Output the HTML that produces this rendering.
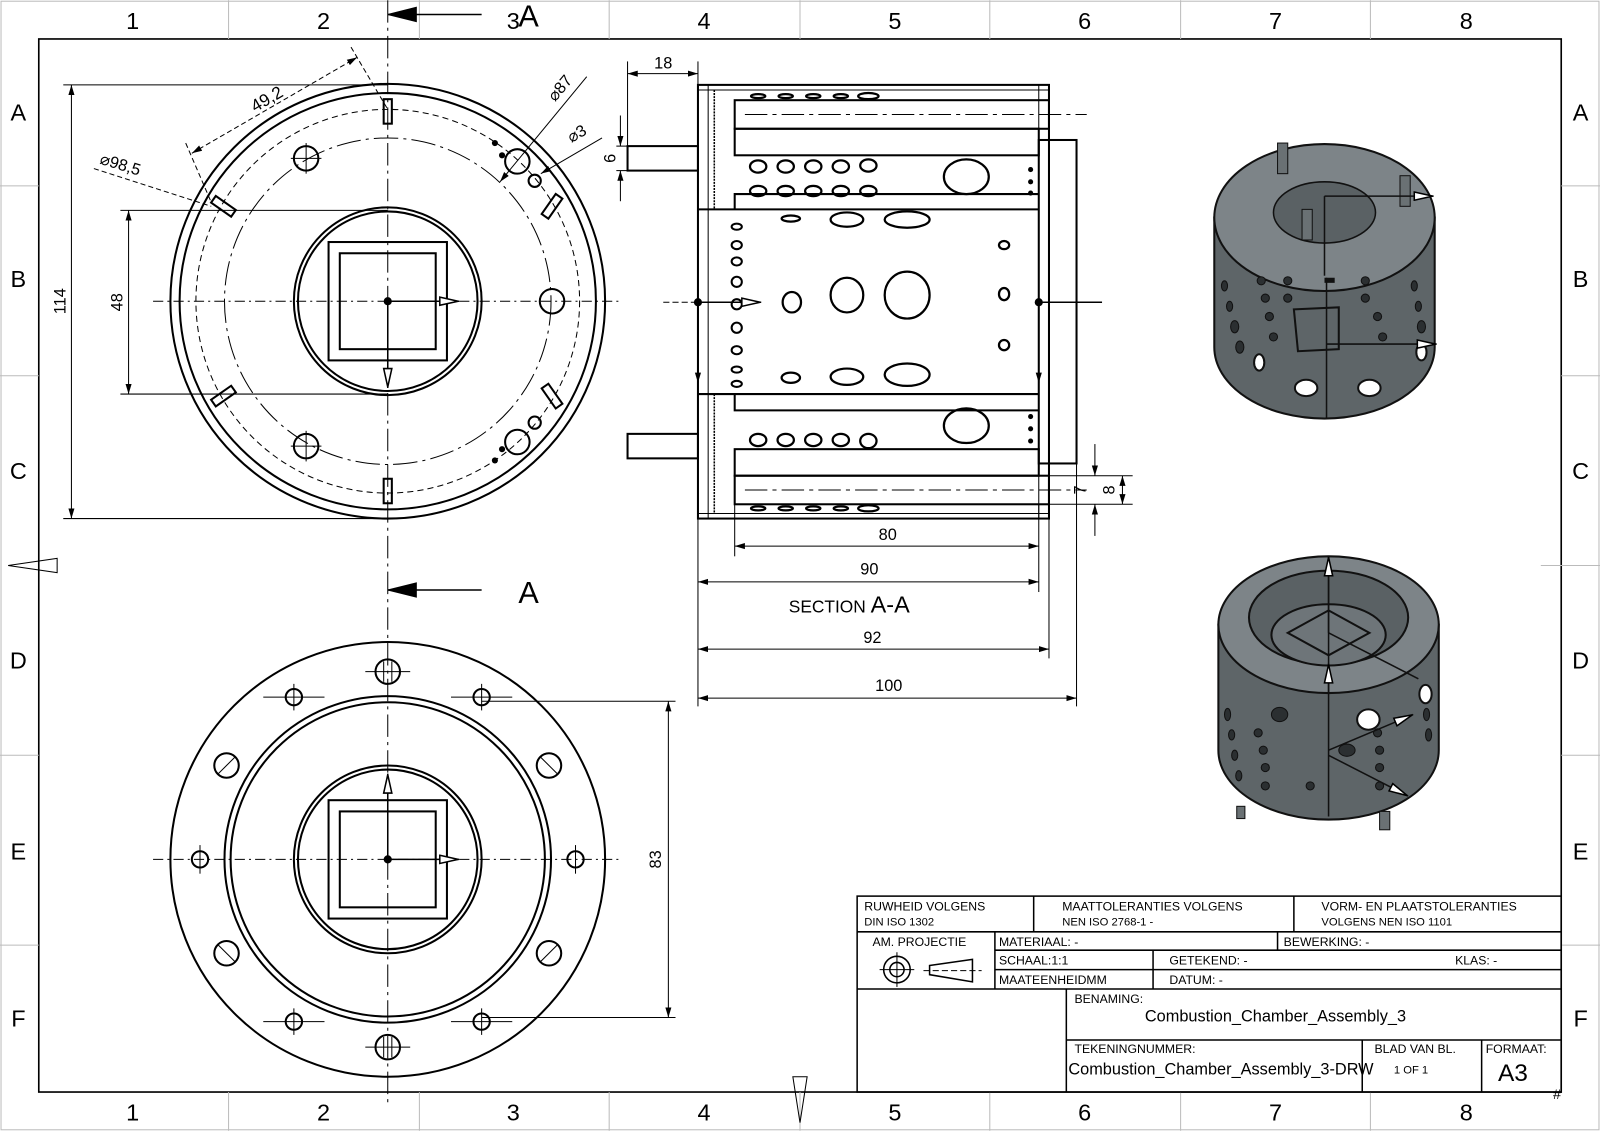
<!DOCTYPE html>
<html><head><meta charset="utf-8"><style>
html,body{margin:0;padding:0;background:#fff}
svg{display:block}
text{font-family:"Liberation Sans",Arial,sans-serif;fill:#000}
</style></head><body>
<svg width="1600" height="1131" viewBox="0 0 1568 1108" xmlns="http://www.w3.org/2000/svg">
<defs>
<marker id="ar" viewBox="0 0 10 10" refX="10" refY="5" markerWidth="10" markerHeight="10" orient="auto-start-reverse" markerUnits="userSpaceOnUse"><path d="M0,2 L10,5 L0,8 z" fill="#000"/></marker>
<marker id="oa" viewBox="0 0 20 10" refX="20" refY="5" markerWidth="20" markerHeight="10" orient="auto" markerUnits="userSpaceOnUse"><path d="M1,1 L19,5 L1,9 z" fill="#fff" stroke="#000" stroke-width="1.5"/></marker>
</defs>
<rect width="1568" height="1108" fill="#fff"/>
<rect x="1" y="1" width="1566" height="1106" fill="none" stroke="#bbb" stroke-width="1"/>
<rect x="38" y="38" width="1492" height="1032" fill="none" stroke="#000" stroke-width="1.6"/>
<g stroke="#bbb" stroke-width="1">
<line x1="224" y1="0" x2="224" y2="38"/><line x1="411" y1="0" x2="411" y2="38"/><line x1="597" y1="0" x2="597" y2="38"/><line x1="784" y1="0" x2="784" y2="38"/><line x1="970" y1="0" x2="970" y2="38"/><line x1="1157" y1="0" x2="1157" y2="38"/><line x1="1343" y1="0" x2="1343" y2="38"/>
<line x1="224" y1="1070" x2="224" y2="1108"/><line x1="411" y1="1070" x2="411" y2="1108"/><line x1="597" y1="1070" x2="597" y2="1108"/><line x1="784" y1="1070" x2="784" y2="1108"/><line x1="970" y1="1070" x2="970" y2="1108"/><line x1="1157" y1="1070" x2="1157" y2="1108"/><line x1="1343" y1="1070" x2="1343" y2="1108"/>
<line x1="0" y1="182" x2="38" y2="182"/><line x1="0" y1="368" x2="38" y2="368"/><line x1="0" y1="740" x2="38" y2="740"/><line x1="0" y1="926" x2="38" y2="926"/>
<line x1="1530" y1="182" x2="1568" y2="182"/><line x1="1530" y1="368" x2="1568" y2="368"/><line x1="1530" y1="740" x2="1568" y2="740"/><line x1="1530" y1="926" x2="1568" y2="926"/>
<line x1="1510" y1="554" x2="1568" y2="554"/>
</g>
<path d="M8,554 L56,547 L56,561 z" fill="none" stroke="#000" stroke-width="1"/>
<path d="M784,1100 L777,1055 L791,1055 z" fill="none" stroke="#000" stroke-width="1"/>
<g font-size="23" text-anchor="middle">
<text x="130" y="28">1</text><text x="317" y="28">2</text><text x="503" y="28">3</text><text x="690" y="28">4</text><text x="877" y="28">5</text><text x="1063" y="28">6</text><text x="1250" y="28">7</text><text x="1437" y="28">8</text>
<text x="130" y="1098">1</text><text x="317" y="1098">2</text><text x="503" y="1098">3</text><text x="690" y="1098">4</text><text x="877" y="1098">5</text><text x="1063" y="1098">6</text><text x="1250" y="1098">7</text><text x="1437" y="1098">8</text>
<text x="18" y="118">A</text><text x="18" y="281">B</text><text x="18" y="469">C</text><text x="18" y="655">D</text><text x="18" y="842">E</text><text x="18" y="1006">F</text>
<text x="1549" y="118">A</text><text x="1549" y="281">B</text><text x="1549" y="469">C</text><text x="1549" y="655">D</text><text x="1549" y="842">E</text><text x="1549" y="1006">F</text>
</g>

<g stroke="#000">
<line x1="380" y1="0" x2="380" y2="1085" stroke-width="1" stroke-dasharray="22,5,3,5"/>
<line x1="380" y1="14" x2="472" y2="14" stroke-width="1.5"/>
<path d="M380,14 L408,7 L408,21 z" fill="#000"/>
<line x1="380" y1="578" x2="472" y2="578" stroke-width="1.5"/>
<path d="M380,578 L408,571 L408,585 z" fill="#000"/>
</g>
<text x="508" y="26" font-size="30">A</text>
<text x="508" y="591" font-size="30">A</text>

<!-- top-left view -->
<g fill="none" stroke="#000" stroke-width="2">
<circle cx="380" cy="295" r="213"/>
<circle cx="380" cy="295" r="204"/>
<circle cx="380" cy="295" r="188" stroke-width="1" stroke-dasharray="6,4"/>
<circle cx="380" cy="295" r="160" stroke-width="1" stroke-dasharray="24,5,3,5"/>
<circle cx="380" cy="295" r="92"/>
<circle cx="380" cy="295" r="88"/>
<rect x="322" y="237" width="116" height="116"/>
<rect x="333" y="248" width="94" height="94"/>
<circle cx="300" cy="155" r="12"/><circle cx="300" cy="437" r="12"/><circle cx="541" cy="295" r="12"/>
<circle cx="507" cy="158" r="12"/><circle cx="507" cy="433" r="12"/>
<circle cx="524" cy="177" r="6"/><circle cx="524" cy="414" r="6"/>
<rect x="376" y="97" width="8" height="24"/><rect x="376" y="469" width="8" height="24"/>
<rect x="207" y="198" width="24" height="8" transform="rotate(35 219 202)"/>
<rect x="529" y="198" width="24" height="8" transform="rotate(-55 541 202)"/>
<rect x="207" y="384" width="24" height="8" transform="rotate(-35 219 388)"/>
<rect x="529" y="384" width="24" height="8" transform="rotate(55 541 388)"/>
</g>
<g fill="#000"><circle cx="485" cy="140" r="3"/><circle cx="492" cy="152" r="3"/><circle cx="485" cy="451" r="3"/><circle cx="492" cy="440" r="3"/><circle cx="380" cy="295" r="4"/></g>
<g stroke="#000" stroke-width="1">
<line x1="150" y1="295" x2="610" y2="295" stroke-dasharray="10,4,2,4"/>
<line x1="285" y1="155" x2="315" y2="155"/><line x1="300" y1="140" x2="300" y2="170"/>
<line x1="285" y1="437" x2="315" y2="437"/><line x1="300" y1="422" x2="300" y2="452"/>
<line x1="380" y1="295" x2="450" y2="295" stroke-width="1.5" marker-end="url(#oa)"/>
<line x1="380" y1="295" x2="380" y2="380" stroke-width="1.5" marker-end="url(#oa)"/>
<line x1="62" y1="83" x2="380" y2="83"/><line x1="62" y1="508" x2="380" y2="508"/>
<line x1="70" y1="83" x2="70" y2="508" marker-start="url(#ar)" marker-end="url(#ar)"/>
<line x1="118" y1="206" x2="380" y2="206"/><line x1="118" y1="386" x2="380" y2="386"/>
<line x1="126" y1="206" x2="126" y2="386" marker-start="url(#ar)" marker-end="url(#ar)"/>
<line x1="188" y1="150" x2="350" y2="56" marker-start="url(#ar)" marker-end="url(#ar)" stroke-dasharray="5,3"/>
<line x1="182" y1="140" x2="207" y2="198" stroke-dasharray="5,3"/>
<line x1="344" y1="46" x2="380" y2="107" stroke-dasharray="5,3"/>
<line x1="92" y1="165" x2="207" y2="202" stroke-dasharray="5,3"/>
<line x1="575" y1="75" x2="490" y2="178" marker-end="url(#ar)"/>
<line x1="590" y1="135" x2="530" y2="170" marker-end="url(#ar)"/>
</g>
<text x="0" y="0" font-size="17" transform="translate(250,110) rotate(-30)">49,2</text>
<text x="0" y="0" font-size="16" transform="translate(97,160) rotate(17)">⌀98,5</text>
<text x="0" y="0" font-size="16" transform="translate(544,100) rotate(-50)">⌀87</text>
<text x="0" y="0" font-size="16" transform="translate(560,140) rotate(-30)">⌀3</text>
<text x="0" y="0" font-size="16" text-anchor="middle" transform="translate(64,295) rotate(-90)">114</text>
<text x="0" y="0" font-size="16" text-anchor="middle" transform="translate(120,296) rotate(-90)">48</text>

<!-- bottom-left view -->
<g fill="none" stroke="#000" stroke-width="2">
<circle cx="380" cy="842" r="213"/>
<circle cx="380" cy="842" r="160"/>
<circle cx="380" cy="842" r="154"/>
<circle cx="380" cy="842" r="92"/>
<circle cx="380" cy="842" r="88"/>
<rect x="322" y="784" width="116" height="116"/>
<rect x="333" y="795" width="94" height="94"/>
<circle cx="380" cy="658" r="12"/><circle cx="380" cy="1026" r="12"/>
<circle cx="222" cy="750" r="12"/><circle cx="538" cy="750" r="12"/><circle cx="222" cy="934" r="12"/><circle cx="538" cy="934" r="12"/>
<circle cx="288" cy="683" r="8"/><circle cx="472" cy="683" r="8"/><circle cx="288" cy="1001" r="8"/><circle cx="472" cy="1001" r="8"/>
<circle cx="196" cy="842" r="8"/><circle cx="564" cy="842" r="8"/>
</g>
<g stroke="#000" stroke-width="1">
<line x1="150" y1="842" x2="610" y2="842" stroke-dasharray="10,4,2,4"/>
<line x1="358" y1="658" x2="402" y2="658"/><line x1="358" y1="1026" x2="402" y2="1026"/>
<line x1="376" y1="648" x2="376" y2="668"/><line x1="384" y1="648" x2="384" y2="668"/>
<line x1="376" y1="1016" x2="376" y2="1036"/><line x1="384" y1="1016" x2="384" y2="1036"/>
<line x1="258" y1="683" x2="318" y2="683"/><line x1="442" y1="683" x2="502" y2="683"/><line x1="258" y1="1001" x2="318" y2="1001"/><line x1="442" y1="1001" x2="502" y2="1001"/>
<line x1="288" y1="670" x2="288" y2="696"/><line x1="472" y1="670" x2="472" y2="696"/><line x1="288" y1="988" x2="288" y2="1014"/><line x1="472" y1="988" x2="472" y2="1014"/>
<line x1="196" y1="828" x2="196" y2="856"/><line x1="564" y1="828" x2="564" y2="856"/>
<line x1="214" y1="758" x2="230" y2="742"/><line x1="530" y1="742" x2="546" y2="758"/><line x1="214" y1="926" x2="230" y2="942"/><line x1="530" y1="942" x2="546" y2="926"/>
<line x1="380" y1="842" x2="450" y2="842" stroke-width="1.5" marker-end="url(#oa)"/>
<line x1="380" y1="842" x2="380" y2="758" stroke-width="1.5" marker-end="url(#oa)"/>
<line x1="472" y1="687" x2="662" y2="687"/><line x1="472" y1="997" x2="662" y2="997"/>
<line x1="655" y1="687" x2="655" y2="997" marker-start="url(#ar)" marker-end="url(#ar)"/>
</g>
<circle cx="380" cy="842" r="4" fill="#000"/>
<text x="0" y="0" font-size="16" text-anchor="middle" transform="translate(648,842) rotate(-90)">83</text>

<!-- section view -->
<g fill="none" stroke="#000" stroke-width="2">
<rect x="684" y="83" width="344" height="425"/>
<line x1="684" y1="88" x2="1028" y2="88" stroke-width="1"/>
<line x1="684" y1="503" x2="1028" y2="503" stroke-width="1"/>
<line x1="694" y1="83" x2="694" y2="508" stroke-width="1"/>
<line x1="1018" y1="83" x2="1018" y2="508" stroke-width="1"/>
<rect x="720" y="98" width="308" height="28"/>
<rect x="720" y="126" width="298" height="26"/>
<path d="M720,205 L720,190 L1018,190"/>
<line x1="684" y1="205" x2="1018" y2="205"/>
<line x1="684" y1="386" x2="1018" y2="386"/>
<path d="M720,386 L720,402 L1018,402"/>
<rect x="720" y="440" width="298" height="26"/>
<rect x="720" y="466" width="308" height="28"/>
<rect x="1018" y="137" width="37" height="317"/>
<rect x="615" y="143" width="69" height="24"/>
<rect x="615" y="425" width="69" height="24"/>
<line x1="700" y1="88" x2="700" y2="205" stroke-dasharray="2,1" stroke-width="1.5"/>
<line x1="700" y1="386" x2="700" y2="503" stroke-dasharray="2,1" stroke-width="1.5"/>
</g>
<g fill="none" stroke="#000" stroke-width="2.2">
<ellipse cx="743" cy="163" rx="8" ry="6"/><ellipse cx="770" cy="163" rx="8" ry="6"/><ellipse cx="797" cy="163" rx="8" ry="6"/><ellipse cx="824" cy="163" rx="8" ry="6"/><ellipse cx="851" cy="162" rx="8" ry="6"/>
<ellipse cx="743" cy="187" rx="8" ry="5"/><ellipse cx="770" cy="187" rx="8" ry="5"/><ellipse cx="797" cy="187" rx="8" ry="5"/><ellipse cx="824" cy="187" rx="8" ry="5"/><ellipse cx="851" cy="187" rx="8" ry="5"/>
<ellipse cx="947" cy="173" rx="22" ry="17"/>
<ellipse cx="743" cy="431" rx="8" ry="6"/><ellipse cx="770" cy="431" rx="8" ry="6"/><ellipse cx="797" cy="431" rx="8" ry="6"/><ellipse cx="824" cy="431" rx="8" ry="6"/><ellipse cx="851" cy="432" rx="8" ry="7"/>
<ellipse cx="947" cy="417" rx="22" ry="17"/>
<ellipse cx="743" cy="94" rx="7" ry="2"/><ellipse cx="770" cy="94" rx="7" ry="2"/><ellipse cx="797" cy="94" rx="7" ry="2"/><ellipse cx="824" cy="94" rx="7" ry="2"/><ellipse cx="851" cy="94" rx="10" ry="3"/>
<ellipse cx="743" cy="498" rx="7" ry="2"/><ellipse cx="770" cy="498" rx="7" ry="2"/><ellipse cx="797" cy="498" rx="7" ry="2"/><ellipse cx="824" cy="498" rx="7" ry="2"/><ellipse cx="851" cy="498" rx="10" ry="3"/>
<ellipse cx="776" cy="296" rx="9" ry="10"/>
<ellipse cx="830" cy="289" rx="16" ry="17"/>
<ellipse cx="889" cy="289" rx="22" ry="23"/>
<ellipse cx="775" cy="214" rx="9" ry="3"/><ellipse cx="830" cy="215" rx="16" ry="7"/><ellipse cx="889" cy="215" rx="22" ry="8"/>
<ellipse cx="775" cy="370" rx="9" ry="5"/><ellipse cx="830" cy="369" rx="16" ry="8"/><ellipse cx="889" cy="367" rx="22" ry="11"/>
<ellipse cx="984" cy="240" rx="5" ry="4"/><ellipse cx="984" cy="288" rx="5" ry="6"/><ellipse cx="984" cy="338" rx="5" ry="5"/>
</g>
<g fill="none" stroke="#000" stroke-width="2">
<ellipse cx="722" cy="222" rx="5" ry="3"/><ellipse cx="722" cy="240" rx="5" ry="4"/><ellipse cx="722" cy="256" rx="5" ry="4"/><ellipse cx="722" cy="276" rx="5" ry="5"/><ellipse cx="722" cy="298" rx="5" ry="5"/><ellipse cx="722" cy="321" rx="5" ry="5"/><ellipse cx="722" cy="343" rx="5" ry="4"/><ellipse cx="722" cy="362" rx="5" ry="3"/><ellipse cx="722" cy="376" rx="5" ry="3"/>
</g>
<g fill="#000"><circle cx="1010" cy="166" r="2.5"/><circle cx="1010" cy="178" r="2.5"/><circle cx="1010" cy="189" r="2.5"/><circle cx="1010" cy="408" r="2.5"/><circle cx="1010" cy="420" r="2.5"/><circle cx="1010" cy="432" r="2.5"/><circle cx="684" cy="296" r="4"/><circle cx="1018" cy="296" r="4"/></g>
<g stroke="#000" stroke-width="1">
<line x1="730" y1="112" x2="1065" y2="112" stroke-dasharray="22,5,4,5"/>
<line x1="730" y1="480" x2="1065" y2="480" stroke-dasharray="22,5,4,5"/>
<line x1="650" y1="296" x2="684" y2="296" stroke-dasharray="6,3"/>
<line x1="684" y1="296" x2="746" y2="296" stroke-width="1.5" marker-end="url(#oa)"/>
<line x1="1018" y1="296" x2="1080" y2="296" stroke-width="1.5"/>
<line x1="684" y1="296" x2="684" y2="375" stroke-width="1.5" marker-end="url(#ar)"/>
<line x1="1018" y1="296" x2="1018" y2="375" stroke-width="1.5" marker-end="url(#ar)"/>
<line x1="615" y1="60" x2="615" y2="143"/><line x1="684" y1="60" x2="684" y2="83"/>
<line x1="615" y1="72" x2="684" y2="72" marker-start="url(#ar)" marker-end="url(#ar)"/>
<line x1="604" y1="143" x2="615" y2="143"/><line x1="604" y1="167" x2="615" y2="167"/>
<line x1="608" y1="113" x2="608" y2="143" marker-end="url(#ar)"/><line x1="608" y1="197" x2="608" y2="167" marker-end="url(#ar)"/>
<line x1="720" y1="494" x2="720" y2="545"/><line x1="1018" y1="494" x2="1018" y2="580"/><line x1="1028" y1="508" x2="1028" y2="645"/><line x1="1055" y1="454" x2="1055" y2="692"/><line x1="684" y1="508" x2="684" y2="692"/>
<line x1="720" y1="535" x2="1018" y2="535" marker-start="url(#ar)" marker-end="url(#ar)"/>
<line x1="684" y1="570" x2="1018" y2="570" marker-start="url(#ar)" marker-end="url(#ar)"/>
<line x1="684" y1="636" x2="1028" y2="636" marker-start="url(#ar)" marker-end="url(#ar)"/>
<line x1="684" y1="684" x2="1055" y2="684" marker-start="url(#ar)" marker-end="url(#ar)"/>
<line x1="1028" y1="466" x2="1110" y2="466"/><line x1="1028" y1="494" x2="1110" y2="494"/>
<line x1="1073" y1="435" x2="1073" y2="466" marker-end="url(#ar)"/><line x1="1073" y1="525" x2="1073" y2="494" marker-end="url(#ar)"/>
<line x1="1100" y1="466" x2="1100" y2="494" marker-start="url(#ar)" marker-end="url(#ar)"/>
</g>
<g font-size="16" text-anchor="middle">
<text x="650" y="67">18</text><text x="870" y="529">80</text><text x="852" y="563">90</text><text x="855" y="630">92</text><text x="871" y="677">100</text>
<text x="0" y="0" transform="translate(603,155) rotate(-90)">6</text>
<text x="0" y="0" transform="translate(1064,480) rotate(-90)">7</text>
<text x="0" y="0" transform="translate(1092,480) rotate(-90)">8</text>
</g>
<text x="773" y="600" font-size="17">SECTION <tspan font-size="23">A-A</tspan></text>

<!-- iso top -->
<g>
<path d="M1190,213 L1190,340 A108,70 0 0 0 1406,340 L1406,213 z" fill="#5e6568" stroke="#111" stroke-width="2"/>
<ellipse cx="1298" cy="213" rx="108" ry="72" fill="#7d8488" stroke="#111" stroke-width="2"/>
<ellipse cx="1298" cy="208" rx="50" ry="30" fill="#5a6164" stroke="#111" stroke-width="1.5"/>
<rect x="1252" y="140" width="10" height="30" fill="#6a7174" stroke="#111"/>
<rect x="1372" y="172" width="10" height="30" fill="#6a7174" stroke="#111"/>
<rect x="1276" y="205" width="10" height="30" fill="#6a7174" stroke="#111"/>
<rect x="1298" y="272" width="10" height="5" fill="#111"/>
<path d="M1300,272 L1300,410" stroke="#111" stroke-width="1.5"/>
<path d="M1268,303 L1312,301 L1312,342 L1272,344 z" fill="none" stroke="#111" stroke-width="2"/>
<g fill="#2b2f31" stroke="#111">
<ellipse cx="1200" cy="280" rx="3" ry="5"/><ellipse cx="1205" cy="300" rx="3" ry="5"/><ellipse cx="1210" cy="320" rx="4" ry="6"/><ellipse cx="1215" cy="340" rx="4" ry="6"/>
<ellipse cx="1236" cy="275" rx="4" ry="4"/><ellipse cx="1240" cy="292" rx="4" ry="4"/><ellipse cx="1244" cy="310" rx="4" ry="4"/><ellipse cx="1248" cy="330" rx="4" ry="4"/>
<ellipse cx="1262" cy="275" rx="4" ry="4"/><ellipse cx="1262" cy="292" rx="4" ry="4"/>
<ellipse cx="1338" cy="275" rx="4" ry="4"/><ellipse cx="1338" cy="292" rx="4" ry="4"/><ellipse cx="1350" cy="310" rx="4" ry="4"/><ellipse cx="1355" cy="330" rx="4" ry="4"/>
<ellipse cx="1386" cy="280" rx="3" ry="5"/><ellipse cx="1390" cy="300" rx="3" ry="5"/><ellipse cx="1393" cy="320" rx="4" ry="6"/>
</g>
<ellipse cx="1283" cy="312" rx="0" ry="0"/>
<ellipse cx="1280" cy="380" rx="11" ry="8" fill="#fff" stroke="#111" stroke-width="2"/>
<ellipse cx="1342" cy="380" rx="11" ry="8" fill="#fff" stroke="#111" stroke-width="2"/>
<ellipse cx="1234" cy="355" rx="5" ry="8" fill="#fff" stroke="#111" stroke-width="2"/>
<ellipse cx="1393" cy="345" rx="5" ry="8" fill="#fff" stroke="#111" stroke-width="2"/>
<line x1="1298" y1="192" x2="1298" y2="270" stroke="#111" stroke-width="1.5"/>
<line x1="1298" y1="192" x2="1405" y2="192" stroke="#111" stroke-width="1.5" marker-end="url(#oa)"/>
<line x1="1300" y1="337" x2="1408" y2="337" stroke="#111" stroke-width="1.5" marker-end="url(#oa)"/>
</g>
<!-- iso bottom -->
<g>
<path d="M1194,612 L1194,735 A108,68 0 0 0 1410,735 L1410,612 z" fill="#5e6568" stroke="#111" stroke-width="2"/>
<ellipse cx="1302" cy="612" rx="108" ry="67" fill="#7d8488" stroke="#111" stroke-width="2"/>
<ellipse cx="1302" cy="605" rx="78" ry="46" fill="#5a6164" stroke="#111" stroke-width="2"/>
<ellipse cx="1302" cy="622" rx="56" ry="30" fill="#6e7579" stroke="#111" stroke-width="2"/>
<path d="M1262,620 L1302,598 L1342,620 L1302,642 z" fill="none" stroke="#111" stroke-width="2"/>
<rect x="1212" y="790" width="8" height="12" fill="#6a7174" stroke="#111"/>
<rect x="1352" y="795" width="10" height="18" fill="#6a7174" stroke="#111"/>
<g fill="#2b2f31" stroke="#111">
<ellipse cx="1203" cy="700" rx="3" ry="6"/><ellipse cx="1207" cy="720" rx="3" ry="5"/><ellipse cx="1210" cy="740" rx="3" ry="5"/><ellipse cx="1214" cy="760" rx="3" ry="5"/>
<ellipse cx="1233" cy="718" rx="4" ry="4"/><ellipse cx="1238" cy="735" rx="4" ry="4"/><ellipse cx="1240" cy="752" rx="4" ry="4"/><ellipse cx="1240" cy="770" rx="4" ry="4"/><ellipse cx="1284" cy="770" rx="4" ry="4"/>
<ellipse cx="1350" cy="718" rx="4" ry="4"/><ellipse cx="1352" cy="735" rx="4" ry="4"/><ellipse cx="1352" cy="752" rx="4" ry="4"/><ellipse cx="1352" cy="770" rx="4" ry="4"/>
<ellipse cx="1398" cy="700" rx="3" ry="6"/><ellipse cx="1400" cy="720" rx="3" ry="6"/>
<ellipse cx="1254" cy="700" rx="8" ry="7"/><ellipse cx="1320" cy="735" rx="8" ry="6"/>
</g>
<ellipse cx="1341" cy="705" rx="11" ry="10" fill="#fff" stroke="#111" stroke-width="2"/>
<ellipse cx="1397" cy="680" rx="6" ry="9" fill="#fff" stroke="#111" stroke-width="2"/>
<line x1="1302" y1="545" x2="1302" y2="800" stroke="#111" stroke-width="1.5"/>
<line x1="1302" y1="620" x2="1302" y2="545" stroke="#111" stroke-width="1.5" marker-end="url(#oa)"/>
<line x1="1302" y1="680" x2="1302" y2="650" stroke="#111" stroke-width="1.5" marker-end="url(#oa)"/>
<line x1="1302" y1="735" x2="1385" y2="700" stroke="#111" stroke-width="1.5" marker-end="url(#oa)"/>
<line x1="1302" y1="740" x2="1380" y2="780" stroke="#111" stroke-width="1.5" marker-end="url(#oa)"/>
<line x1="1302" y1="620" x2="1390" y2="665" stroke="#111" stroke-width="1.5"/>
</g>

<!-- title block -->
<g fill="none" stroke="#000" stroke-width="1.5">
<rect x="840" y="878" width="690" height="192"/>
<line x1="840" y1="913" x2="1530" y2="913"/>
<line x1="1013" y1="878" x2="1013" y2="913"/><line x1="1268" y1="878" x2="1268" y2="913"/>
<line x1="975" y1="931" x2="1530" y2="931"/><line x1="975" y1="950" x2="1530" y2="950"/>
<line x1="840" y1="969" x2="1530" y2="969"/>
<line x1="975" y1="913" x2="975" y2="969"/>
<line x1="1252" y1="913" x2="1252" y2="931"/>
<line x1="1130" y1="931" x2="1130" y2="969"/>
<line x1="1045" y1="969" x2="1045" y2="1070"/>
<line x1="1045" y1="1019" x2="1530" y2="1019"/>
<line x1="1335" y1="1019" x2="1335" y2="1070"/><line x1="1452" y1="1019" x2="1452" y2="1070"/>
<circle cx="879" cy="950" r="13"/><circle cx="879" cy="950" r="7"/>
<path d="M911,946 L953,940 L953,962 L911,955 z"/>
</g>
<g stroke="#000" stroke-width="1"><line x1="862" y1="950" x2="896" y2="950"/><line x1="879" y1="933" x2="879" y2="967"/><line x1="905" y1="951" x2="962" y2="951" stroke-dasharray="6,3"/></g>
<g font-size="12">
<text x="847" y="892">RUWHEID VOLGENS</text><text x="847" y="907" font-size="11">DIN ISO 1302</text>
<text x="1041" y="892">MAATTOLERANTIES VOLGENS</text><text x="1041" y="907" font-size="11">NEN ISO 2768-1 -</text>
<text x="1295" y="892">VORM- EN PLAATSTOLERANTIES</text><text x="1295" y="907" font-size="11">VOLGENS NEN ISO 1101</text>
<text x="855" y="927">AM. PROJECTIE</text>
<text x="979" y="927">MATERIAAL: -</text><text x="1258" y="927">BEWERKING: -</text>
<text x="979" y="945">SCHAAL:1:1</text><text x="1146" y="945">GETEKEND: -</text><text x="1426" y="945">KLAS:  -</text>
<text x="979" y="964">MAATEENHEIDMM</text><text x="1146" y="964">DATUM: -</text>
<text x="1053" y="983">BENAMING:</text>
<text x="1053" y="1032">TEKENINGNUMMER:</text>
<text x="1347" y="1032">BLAD VAN BL.</text>
<text x="1456" y="1032">FORMAAT:</text>
</g>
<text x="1122" y="1001" font-size="16">Combustion_Chamber_Assembly_3</text>
<text x="1047" y="1053" font-size="16">Combustion_Chamber_Assembly_3-DRW</text>
<text x="1366" y="1052" font-size="11">1 OF 1</text>
<text x="1468" y="1059" font-size="24">A3</text>
<text x="1522" y="1077" font-size="14">#</text>
</svg>
</body></html>
